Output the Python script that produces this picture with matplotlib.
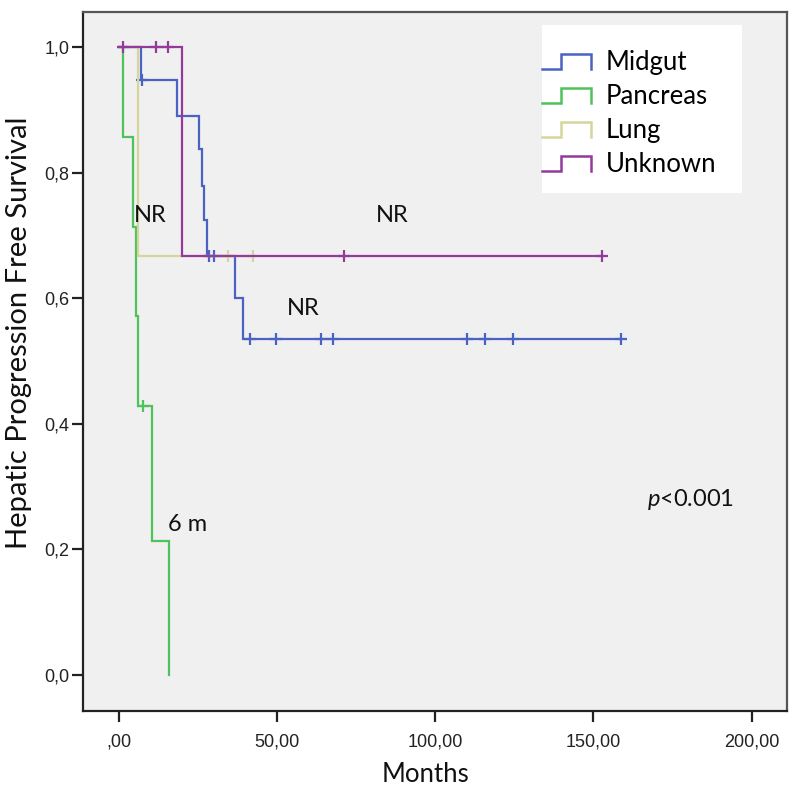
import matplotlib
matplotlib.use("Agg")
import matplotlib.pyplot as plt
from matplotlib.lines import Line2D
from matplotlib.legend_handler import HandlerBase
from matplotlib.patches import Rectangle
import numpy as np

# ---------------- data ----------------
groups = ["Midgut", "Pancreas", "Lung", "Unknown"]

midgut_times = [0.0, 7.0, 18.3, 25.4, 26.3, 27.0, 27.8, 36.8, 39.3]
midgut_surv = [1.0, 0.947, 0.890, 0.838, 0.779, 0.724, 0.667, 0.600, 0.535]
midgut_censor = [7.3, 28.3, 29.9, 41.4, 49.5, 63.8, 67.7, 110.0, 115.7, 124.7, 158.8]

pancreas_times = [0.0, 1.2, 4.5, 5.5, 6.0, 10.5, 15.7]
pancreas_surv = [1.0, 0.857, 0.714, 0.571, 0.429, 0.214, 0.0]
pancreas_censor = [7.7]

lung_times = [0.0, 6.1]
lung_surv = [1.0, 0.667]
lung_censor = [34.5, 42.4]

unknown_times = [0.0, 19.9]
unknown_surv = [1.0, 0.667]
unknown_censor = [1.4, 11.7, 15.5, 71.0, 152.7]

x_ticks = [0, 50, 100, 150, 200]
x_ticklabels = [",00", "50,00", "100,00", "150,00", "200,00"]
y_ticks = [0.0, 0.2, 0.4, 0.6, 0.8, 1.0]
y_ticklabels = ["0,0", "0,2", "0,4", "0,6", "0,8", "1,0"]

annotations = [("NR", 9.8, 0.732), ("NR", 86.3, 0.732), ("NR", 58.4, 0.584), ("6 m", 21.6, 0.24)]
p_text = ("p", "<0.001", 180.6, 0.279)

colors = ["#4a63c2", "#4fc25c", "#d6d59c", "#943a9a"]

# ---------------- style ----------------
plt.rcParams["font.family"] = ["Lato", "DejaVu Sans"]
plt.rcParams["mathtext.fontset"] = "custom"
plt.rcParams["mathtext.it"] = "Lato:italic"
plt.rcParams["mathtext.rm"] = "Lato"

fig = plt.figure(figsize=(7.98, 8.0), dpi=100)
fig.patch.set_facecolor("white")
ax = fig.add_axes([0.1044, 0.1113, 0.8814, 0.8741])
ax.set_facecolor("#f0f0f0")

series = [
    (midgut_times, midgut_surv, midgut_censor),
    (pancreas_times, pancreas_surv, pancreas_censor),
    (lung_times, lung_surv, lung_censor),
    (unknown_times, unknown_surv, unknown_censor),
]

handles = []
for (t, s, c), col, name in zip(series, colors, groups):
    t = list(t)
    s = list(s)
    end = max(t[-1], max(c)) if s[-1] > 0 else t[-1]
    tt = t + [end]
    ss = s + [s[-1]]
    ln, = ax.step(tt, ss, where="post", color=col, lw=1.6, label=name, solid_joinstyle="miter")
    handles.append(ln)
    # censor marks
    cy = [s[np.searchsorted(t, ci, side="right") - 1] for ci in c]
    ax.plot(c, cy, linestyle="none", marker="+", markersize=8, markeredgewidth=1.6, color=col)

ax.set_xlim(-11.3, 211.1)
ax.set_ylim(-0.057, 1.056)
ax.set_xticks(x_ticks)
ax.set_xticklabels(x_ticklabels)
ax.set_yticks(y_ticks)
ax.set_yticklabels(y_ticklabels)
for lab in ax.get_xticklabels() + ax.get_yticklabels():
    lab.set_fontfamily("Liberation Sans")
    lab.set_fontsize(13)
    lab.set_color("#222222")
ax.tick_params(axis="both", direction="out", length=8, width=1.6, color="#222222")
ax.tick_params(axis="x", pad=8)
ax.tick_params(axis="y", pad=2)

for side, sp in ax.spines.items():
    sp.set_linewidth(1.6)
    sp.set_color("#222222" if side in ("left", "bottom") else "#555555")

ax.set_xlabel("Months", fontsize=18.5, color="#111111")
ax.xaxis.set_label_coords(0.486, -0.0915)
ax.xaxis.label.set_va("center")
ax.set_ylabel("Hepatic Progression Free Survival", fontsize=21, color="#111111")
ax.yaxis.set_label_coords(-0.0915, 0.5405)
ax.yaxis.label.set_va("center")

for txt, x, y in annotations:
    ax.text(x, y, txt, fontsize=17, ha="center", va="center", color="#111111")
ax.text(p_text[2], p_text[3], r"$\it{" + p_text[0] + "}$" + p_text[1], fontsize=17,
        ha="center", va="center", color="#111111")

# legend with step-shaped handles
class StepHandler(HandlerBase):
    def create_artists(self, legend, orig_handle, xdescent, ydescent, width, height, fontsize, trans):
        x0 = -xdescent
        y0 = -ydescent
        lo = y0 + 0.05 * height
        hi = y0 + 0.85 * height
        xs = [x0, x0 + 0.4 * width, x0 + 0.4 * width, x0 + width, x0 + width]
        ys = [lo, lo, hi, hi, lo]
        l = Line2D(xs, ys, color=orig_handle.get_color(), lw=1.8, solid_joinstyle="miter")
        l.set_transform(trans)
        return [l]

box = Rectangle((0.6517, 0.741), 0.936 - 0.6517, 0.981 - 0.741, transform=ax.transAxes,
                facecolor="white", edgecolor="none", zorder=4)
ax.add_patch(box)
leg = ax.legend(handles=handles, labels=groups, loc="upper left",
                bbox_to_anchor=(0.6517, 0.9457), borderaxespad=0, borderpad=0,
                frameon=False, fontsize=18.5, handlelength=1.9, handleheight=0.7,
                handletextpad=0.6, labelspacing=0.35,
                handler_map={h: StepHandler() for h in handles})
leg.set_zorder(5)

fig.savefig("out.png", dpi=100)
